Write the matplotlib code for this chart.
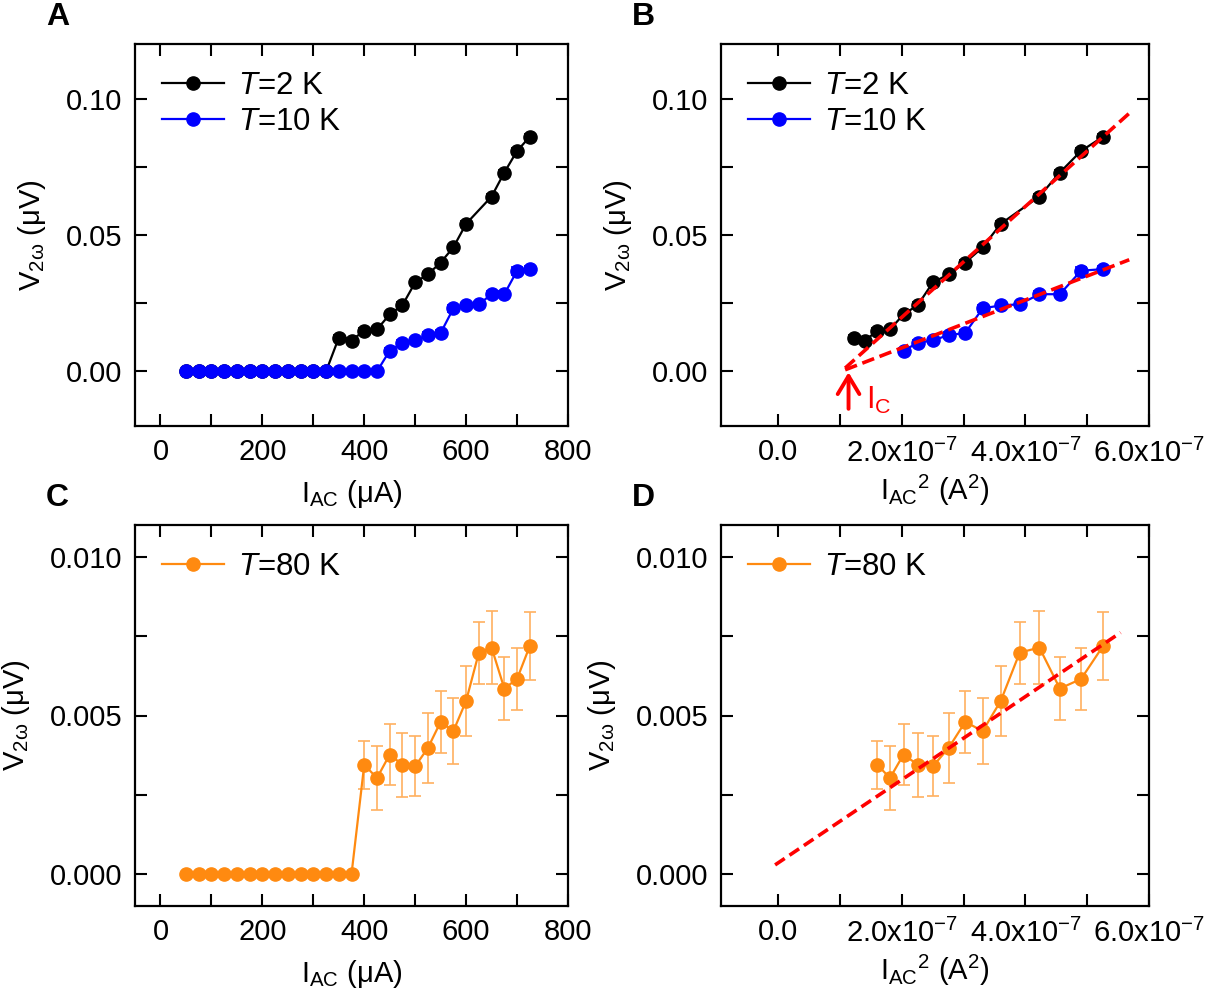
import numpy as np
import matplotlib
matplotlib.use("Agg")
import matplotlib.pyplot as plt
from matplotlib.lines import Line2D
from matplotlib.ticker import MultipleLocator, FuncFormatter, FormatStrFormatter

plt.rcParams['font.family'] = ['Liberation Sans', 'DejaVu Sans']
plt.rcParams['mathtext.fontset'] = 'custom'
plt.rcParams['mathtext.rm'] = 'Liberation Sans'
plt.rcParams['mathtext.it'] = 'Liberation Sans:italic'
plt.rcParams['mathtext.bf'] = 'Liberation Sans:bold'

# Dados (corrente em uA, tensao em uV)
i_2k = [50, 75, 100, 125, 150, 175, 200, 225, 250, 275, 300, 325,
        350, 375, 400, 425, 450, 475, 500, 525, 550, 575, 600, 650, 675, 700, 725]
v_2k = [0, 0, 0, 0, 0, 0, 0, 0, 0, 0, 0, 0,
        0.0123, 0.0113, 0.0150, 0.0154, 0.0209, 0.0243, 0.0326, 0.0356,
        0.0399, 0.0455, 0.0541, 0.0641, 0.0729, 0.0808, 0.0860]
e_2k = [0.0008] * 12 + [0.0010, 0.0010, 0.0010, 0.0010, 0.0010, 0.0010, 0.0010, 0.0010,
                        0.0010, 0.0010, 0.0010, 0.0010, 0.0010, 0.0012, 0.0010]

i_10k = [50, 75, 100, 125, 150, 175, 200, 225, 250, 275, 300, 325, 350, 375, 400, 425,
         450, 475, 500, 525, 550, 575, 600, 625, 650, 675, 700, 725]
v_10k = [0, 0, 0, 0, 0, 0, 0, 0, 0, 0, 0, 0, 0, 0, 0, 0,
         0.0076, 0.0105, 0.0114, 0.0133, 0.0141, 0.0231, 0.0242, 0.0246,
         0.0283, 0.0283, 0.0369, 0.0375]
e_10k = [0.0008] * 16 + [0.0010, 0.0010, 0.0010, 0.0010, 0.0010, 0.0012,
                         0.0010, 0.0010, 0.0012, 0.0010, 0.0015, 0.0012]

i_80k = [50, 75, 100, 125, 150, 175, 200, 225, 250, 275, 300, 325, 350, 375,
         400, 425, 450, 475, 500, 525, 550, 575, 600, 625, 650, 675, 700, 725]
v_80k = [0, 0, 0, 0, 0, 0, 0, 0, 0, 0, 0, 0, 0, 0,
         0.00345, 0.00303, 0.00377, 0.00345, 0.00340, 0.00398, 0.00480,
         0.00451, 0.00546, 0.00698, 0.00714, 0.00585, 0.00615, 0.00719]
e_80k = [0] * 14 + [0.00076, 0.00100, 0.00097, 0.00101, 0.00095, 0.00110, 0.00098,
                    0.00104, 0.00110, 0.00098, 0.00114, 0.00099, 0.00098, 0.00108]

# Ajustes lineares (V = a*I^2 + b)
fit_2k = (2.03e5, -0.0207)
fit_10k = (8.77e4, -0.00888)
fit_x_b = [1.08e-7, 5.68e-7]
fit_80k = (1.308e4, 0.000365)
fit_x_d = [-0.054e-7, 5.54e-7]
ic_x = 1.135e-7

C_ORANGE = '#FF8A10'
C_ORANGE_ERR = '#FFB060'
C_BLUE = '#0000FF'
FS = 21


def sq(lista_i, lista_v, lista_e, minimo):
    # Converte uA -> A^2 e filtra os pontos acima do limiar
    x, y, e = [], [], []
    for a, b, c in zip(lista_i, lista_v, lista_e):
        if a >= minimo:
            x.append((a * 1e-6) ** 2)
            y.append(b)
            e.append(c)
    return np.array(x), np.array(y), np.array(e)


def sci(v, pos):
    if abs(v) < 1e-12:
        return "0.0"
    return r"%.1fx10$^{\mathrm{-7}}$" % (v / 1e-7)


def estilo(ax):
    for s in ax.spines.values():
        s.set_linewidth(1.6)
    ax.tick_params(which='both', direction='in', top=True, right=True,
                   length=8.5, width=1.5, labelsize=FS, pad=9)


def serie(ax, x, y, e, cor, z, ecor=None):
    ax.errorbar(x, y, yerr=e, color=cor, marker='o', ms=9.5, lw=1.6,
                ecolor=ecor or cor, elinewidth=1.2, capsize=4.5, capthick=1.2,
                zorder=z)


def legenda(ax, itens):
    handles = [Line2D([], [], color=c, marker='o', ms=9.5, lw=1.6) for c, _ in itens]
    ax.legend(handles, [t for _, t in itens], loc='upper left', frameon=False,
              fontsize=22.5, handlelength=2.0, handletextpad=0.45,
              labelspacing=0.2, borderaxespad=0.4, borderpad=0.45)


fig = plt.figure(figsize=(12.11, 9.93), dpi=100)
W, H = 1211.0, 993.0
ax_a = fig.add_axes([135 / W, 1 - 426 / H, 433 / W, 382 / H])
ax_b = fig.add_axes([721 / W, 1 - 426 / H, 428 / W, 382 / H])
ax_c = fig.add_axes([135 / W, 1 - 906 / H, 433 / W, 381 / H])
ax_d = fig.add_axes([721 / W, 1 - 906 / H, 428 / W, 381 / H])

ylab = r"V$_{\mathrm{2ω}}$ (μV)"
leg_ab = [('black', r"$T$=2 K"), (C_BLUE, r"$T$=10 K")]
leg_cd = [(C_ORANGE, r"$T$=80 K")]

# Painel A
serie(ax_a, i_2k, v_2k, e_2k, 'black', 3)
serie(ax_a, i_10k, v_10k, e_10k, C_BLUE, 4)
ax_a.set_xlim(-50, 800)
ax_a.set_ylim(-0.02, 0.12)

# Painel B
x, y, e = sq(i_2k, v_2k, e_2k, 350)
serie(ax_b, x, y, e, 'black', 3)
x, y, e = sq(i_10k, v_10k, e_10k, 450)
serie(ax_b, x, y, e, C_BLUE, 4)
fx = np.array(fit_x_b)
for a, b in (fit_2k, fit_10k):
    ax_b.plot(fx, a * fx + b, color='red', lw=2.6, dashes=(3.5, 1.6), zorder=6)
ax_b.annotate("", xy=(ic_x, -0.0003), xytext=(ic_x, -0.0137),
              arrowprops=dict(arrowstyle='->,head_length=0.5,head_width=0.3',
                              color='red', lw=2.8, mutation_scale=26,
                              shrinkA=0, shrinkB=0))
ax_b.text(1.42e-7, -0.0108, r"I$_{\mathrm{C}}$", color='red', fontsize=22,
          va='center', ha='left')
ax_b.set_xlim(-0.93e-7, 6e-7)
ax_b.set_ylim(-0.02, 0.12)

# Painel C
serie(ax_c, i_80k, v_80k, e_80k, C_ORANGE, 3, ecor=C_ORANGE_ERR)
ax_c.set_xlim(-50, 800)
ax_c.set_ylim(-0.001, 0.011)

# Painel D
x, y, e = sq(i_80k, v_80k, e_80k, 400)
serie(ax_d, x, y, e, C_ORANGE, 3, ecor=C_ORANGE_ERR)
fx = np.array(fit_x_d)
ax_d.plot(fx, fit_80k[0] * fx + fit_80k[1], color='red', lw=2.6,
          dashes=(3.2, 1.6), zorder=6)
ax_d.set_xlim(-0.93e-7, 6e-7)
ax_d.set_ylim(-0.001, 0.011)

for ax in (ax_a, ax_c):
    ax.xaxis.set_major_locator(MultipleLocator(200))
    ax.xaxis.set_minor_locator(MultipleLocator(100))
    ax.set_xlabel(r"I$_{\mathrm{AC}}$ (μA)", fontsize=FS, labelpad=8)
for ax in (ax_b, ax_d):
    ax.xaxis.set_major_locator(MultipleLocator(2e-7))
    ax.xaxis.set_minor_locator(MultipleLocator(1e-7))
    ax.xaxis.set_major_formatter(FuncFormatter(sci))
    ax.set_xlabel(r"I$_{\mathrm{AC}}$$^{2}$ (A$^{2}$)", fontsize=FS, labelpad=4)
for ax in (ax_a, ax_b):
    ax.yaxis.set_major_locator(MultipleLocator(0.05))
    ax.yaxis.set_minor_locator(MultipleLocator(0.025))
    ax.yaxis.set_major_formatter(FormatStrFormatter('%.2f'))
    legenda(ax, leg_ab)
for ax in (ax_c, ax_d):
    ax.yaxis.set_major_locator(MultipleLocator(0.005))
    ax.yaxis.set_minor_locator(MultipleLocator(0.0025))
    ax.yaxis.set_major_formatter(FormatStrFormatter('%.3f'))
    legenda(ax, leg_cd)

for ax, letra in zip((ax_a, ax_b, ax_c, ax_d), "ABCD"):
    estilo(ax)
    ax.set_ylabel(ylab, fontsize=FS, labelpad=13)
    bb = ax.get_position()
    fig.text(bb.x0 - 89 / W, bb.y1 + 27 / H, letra, fontsize=23,
             fontweight='bold', ha='left', va='center')

fig.savefig("out.png", dpi=100)
